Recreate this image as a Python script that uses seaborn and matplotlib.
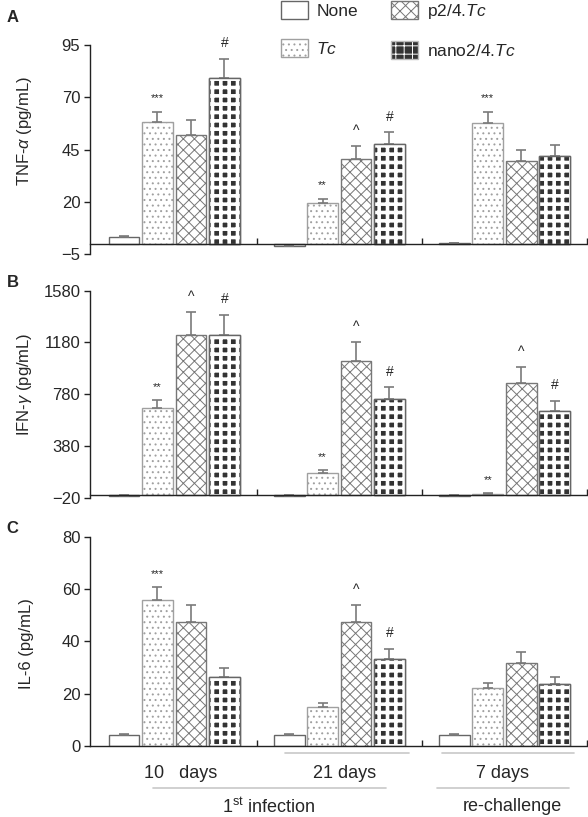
import numpy as np
import pandas as pd
import matplotlib
matplotlib.use('Agg')
import matplotlib.pyplot as plt
from matplotlib.patches import Patch, Rectangle
import seaborn as sns

days = ['10 days', '21 days', '7 days']
treatments = ['None', 'Tc', 'p2/4.Tc', 'nano2/4.Tc']
legend_labels = ['None', '$Tc$', 'p2/4.$Tc$', 'nano2/4.$Tc$']

# TNF-alpha (pg/mL), one list per treatment, values for 10d / 21d / 7d re-challenge
tnf_none = [3.2, -1.0, 0.2]
tnf_tc = [58.0, 19.5, 57.7]
tnf_p24 = [52.0, 40.5, 39.3]
tnf_nano = [79.0, 47.5, 42.0]
tnf_none_err = [0.5, 0.3, 0.0]
tnf_tc_err = [5.0, 2.0, 5.3]
tnf_p24_err = [7.0, 6.0, 5.5]
tnf_nano_err = [9.4, 5.7, 5.2]

# IFN-gamma (pg/mL)
ifn_none = [-5, -5, -3]
ifn_tc = [674, 173, 12]
ifn_p24 = [1240, 1033, 866]
ifn_nano = [1240, 743, 653]
ifn_none_err = [3, 3, 2]
ifn_tc_err = [60, 18, 3]
ifn_p24_err = [175, 147, 121]
ifn_nano_err = [155, 90, 77]

# IL-6 (pg/mL)
il6_none = [4.1, 4.1, 4.1]
il6_tc = [55.8, 14.9, 22.2]
il6_p24 = [47.3, 47.3, 31.6]
il6_nano = [26.5, 33.1, 23.8]
il6_none_err = [0.5, 0.5, 0.5]
il6_tc_err = [4.9, 1.4, 2.0]
il6_p24_err = [6.5, 6.6, 4.3]
il6_nano_err = [3.2, 4.1, 2.7]

# significance marks: (day index, treatment index, text)
tnf_marks = [(0, 1, '***'), (0, 3, '#'), (1, 1, '**'), (1, 2, '^'), (1, 3, '#'), (2, 1, '***')]
ifn_marks = [(0, 1, '**'), (0, 2, '^'), (0, 3, '#'), (1, 1, '**'), (1, 2, '^'), (1, 3, '#'),
             (2, 1, '**'), (2, 2, '^'), (2, 3, '#')]
il6_marks = [(0, 1, '***'), (1, 2, '^'), (1, 3, '#')]

sns.set_style('white')
plt.rcParams['font.family'] = ['Liberation Sans', 'DejaVu Sans']
plt.rcParams['mathtext.fontset'] = 'custom'
plt.rcParams['mathtext.rm'] = 'Liberation Sans'
plt.rcParams['mathtext.it'] = 'Liberation Sans:italic'
plt.rcParams['hatch.linewidth'] = 0.7

faces = ['white', 'white', 'white', '#333333']
edges = ['#666666', '#a0a0a0', '#777777', '#666666']
hatches = [None, '...', 'xxx', None]
FS = 12
THICK = {'hatch.linewidth': 2.6}


class ThickHatch(Rectangle):
    # white grid over the dark bars, drawn with a heavier hatch line
    def draw(self, renderer):
        with plt.rc_context(THICK):
            super().draw(renderer)


def make_df(none, tc, p24, nano):
    rows = []
    for t, vals in zip(treatments, [none, tc, p24, nano]):
        for d, v in zip(days, vals):
            rows.append({'day': d, 'treatment': t, 'value': v})
    return pd.DataFrame(rows)


def panel(ax, df, errs, marks, ylim, yticks, ylabel, label_y, letter):
    sns.barplot(data=df, x='day', y='value', hue='treatment', order=days,
                hue_order=treatments, width=0.81, gap=0.08, errorbar=None,
                legend=False, ax=ax)
    conts = list(ax.containers[:4])
    for i, cont in enumerate(conts):
        for b in cont:
            b.set_facecolor(faces[i])
            b.set_edgecolor(edges[i])
            b.set_linewidth(1.0)
            if hatches[i]:
                b.set_hatch(hatches[i])
            if i == 3:
                z = b.get_zorder()
                with plt.rc_context(THICK):
                    ax.add_patch(ThickHatch((b.get_x(), b.get_y()), b.get_width(), b.get_height(),
                                            facecolor='none', edgecolor='white', hatch='++',
                                            lw=0, zorder=z + 0.05))
                ax.add_patch(Rectangle((b.get_x(), b.get_y()), b.get_width(), b.get_height(),
                                       fill=False, edgecolor=edges[i], lw=1.0, zorder=z + 0.1))
        xs = [b.get_x() + b.get_width() / 2 for b in cont]
        ys = df[df['treatment'] == treatments[i]]['value'].to_numpy()
        e = np.array(errs[i])
        ax.errorbar(xs, ys, yerr=[np.zeros_like(e), e], fmt='none', ecolor='#7a7a7a',
                    elinewidth=1.2, capsize=3.5, capthick=1.2, zorder=1)
    for d, t, txt in marks:
        b = conts[t][d]
        top = df[(df['treatment'] == treatments[t]) & (df['day'] == days[d])]['value'].iloc[0] + errs[t][d]
        fs = 8 if '*' in txt else 10
        ax.annotate(txt, (b.get_x() + b.get_width() / 2, top), xytext=(0, 6),
                    textcoords='offset points', ha='center', va='bottom', fontsize=fs)
    ax.set_xlim(-0.51, 2.5)
    ax.set_ylim(*ylim)
    ax.set_yticks(yticks)
    ax.set_xticks([0.5, 1.5, 2.5])
    ax.set_xticklabels([])
    ax.set_xlabel('')
    ax.set_ylabel(ylabel, fontsize=FS)
    ax.yaxis.set_label_coords(-0.112, label_y)
    ax.spines['top'].set_visible(False)
    ax.spines['right'].set_visible(False)
    ax.spines['bottom'].set_position(('data', 0))
    for s in ['left', 'bottom']:
        ax.spines[s].set_color('#222222')
        ax.spines[s].set_linewidth(1.0)
    ax.tick_params(axis='y', direction='out', length=4, width=1, color='#222222',
                   labelsize=FS, left=True, pad=3)
    ax.tick_params(axis='x', direction='in', length=4, width=1, color='#222222', bottom=True)
    ax.text(-0.168, 1.13 if letter == 'A' else 1.04, letter, transform=ax.transAxes,
            fontsize=12, fontweight='bold', ha='left', va='center')


fig = plt.figure(figsize=(5.88, 8.17), dpi=100)
W, H = 588, 817
axA = fig.add_axes([90 / W, 1 - 254 / H, 497 / W, 209 / H])
axB = fig.add_axes([90 / W, 1 - 497.7 / H, 497 / W, 207 / H])
axC = fig.add_axes([90 / W, 1 - 746 / H, 497 / W, 209.3 / H])

panel(axA, make_df(tnf_none, tnf_tc, tnf_p24, tnf_nano),
      [tnf_none_err, tnf_tc_err, tnf_p24_err, tnf_nano_err], tnf_marks,
      (-5, 95), [-5, 20, 45, 70, 95], r'TNF-$\alpha$ (pg/mL)', 0.59, 'A')
panel(axB, make_df(ifn_none, ifn_tc, ifn_p24, ifn_nano),
      [ifn_none_err, ifn_tc_err, ifn_p24_err, ifn_nano_err], ifn_marks,
      (-20, 1580), [-20, 380, 780, 1180, 1580], r'IFN-$\gamma$ (pg/mL)', 0.55, 'B')
panel(axC, make_df(il6_none, il6_tc, il6_p24, il6_nano),
      [il6_none_err, il6_tc_err, il6_p24_err, il6_nano_err], il6_marks,
      (0, 80), [0, 20, 40, 60, 80], 'IL-6 (pg/mL)', 0.49, 'C')

# x-axis group labels under panel C
tr = axC.get_xaxis_transform()
for x, y, s in [(0.04, -0.13, '10   days'), (1.03, -0.13, '21 days'), (1.99, -0.13, '7 days'),
                (0.57, -0.29, '1$^{\\mathrm{st}}$ infection'), (2.05, -0.29, 're-challenge')]:
    axC.text(x, y, s, transform=tr, ha='center', va='center', fontsize=13)
for x0, x1, yy in [(0.67, 1.42, -0.033), (1.62, 2.42, -0.033), (-0.13, 1.28, -0.2), (1.59, 2.39, -0.2)]:
    axC.plot([x0, x1], [yy, yy], transform=tr, color='#c8c8c8', lw=1.2, clip_on=False)

# legend
handles = []
for i in range(4):
    if i == 3:
        with plt.rc_context(THICK):
            p = Patch(facecolor=faces[i], edgecolor='white', hatch='++', lw=0)
        handles.append((p, Patch(facecolor='none', edgecolor='#bbbbbb', lw=1)))
    else:
        handles.append(Patch(facecolor=faces[i], edgecolor=edges[i], hatch=hatches[i], lw=1))
leg = fig.legend(handles, legend_labels, loc='upper left', bbox_to_anchor=(280 / W, 1.0),
                 ncol=2, frameon=False, fontsize=12.5, borderpad=0.05, borderaxespad=0,
                 handlelength=1.55, handleheight=1.2, handletextpad=0.5,
                 labelspacing=1.2, columnspacing=1.9)

fig.savefig('out.png', dpi=100)
